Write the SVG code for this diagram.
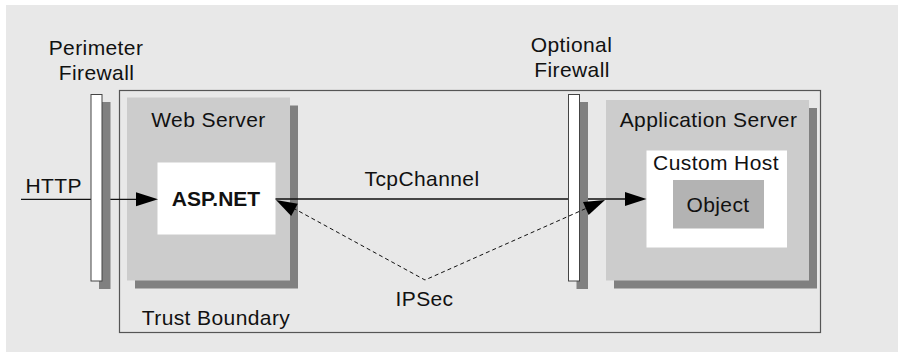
<svg xmlns="http://www.w3.org/2000/svg" width="898" height="352" viewBox="0 0 898 352">
<style>
text{font-family:"Liberation Sans",Arial,sans-serif;font-size:21px;letter-spacing:0.4px;fill:#111;text-anchor:middle}
.bold{font-weight:bold;letter-spacing:0}
.srv{fill:#cccccc}
.shd{fill:#808080}
.fw{fill:#ffffff;stroke:#444;stroke-width:1}
.line{stroke:#111;stroke-width:1.3;fill:none}
.dash{stroke:#111;stroke-width:1;fill:none;stroke-dasharray:4 3}
.ah{fill:#000}
</style>
<rect x="6" y="5" width="892" height="347" fill="#e8e8e8"/>
<g id="trust-boundary">
<rect x="119.5" y="90.5" width="701" height="242" fill="none" stroke="#555" stroke-width="1.2"/>
<text x="216" y="324.5">Trust Boundary</text>
</g>
<g id="web-server">
<rect class="shd" x="135" y="105.5" width="163" height="183"/>
<rect class="srv" x="127" y="97.5" width="163" height="183"/>
<text x="208.5" y="127">Web Server</text>
</g>
<g id="aspnet">
<rect x="157.5" y="162.5" width="118" height="72" fill="#fff"/>
<text class="bold" x="216" y="205.5">ASP.NET</text>
</g>
<g id="app-server">
<rect class="shd" x="614" y="108" width="203" height="180.5"/>
<rect class="srv" x="606" y="100" width="203" height="180.5"/>
<text x="708.5" y="126.5">Application Server</text>
</g>
<g id="custom-host">
<rect x="646.5" y="150.5" width="140.5" height="97" fill="#fff"/>
<text x="716" y="169.5">Custom Host</text>
</g>
<g id="object">
<rect x="673" y="180" width="91" height="48.5" fill="#b3b3b3"/>
<text x="718" y="211.5">Object</text>
</g>
<g id="connectors">
<line class="line" x1="21" y1="199.3" x2="140" y2="199.3"/>
<polygon class="ah" points="158,199.3 136,192.3 136,206.3"/>
<text x="53.7" y="192.7">HTTP</text>
<line class="line" x1="275.5" y1="199" x2="628" y2="199"/>
<polygon class="ah" points="646.5,199 625,192 625,206"/>
</g>
<g id="perimeter-firewall">
<rect class="shd" x="99" y="102" width="11.5" height="187"/>
<rect class="fw" x="91" y="94.5" width="11" height="186.5"/>
<text x="96" y="55">Perimeter</text>
<text x="96.5" y="80">Firewall</text>
</g>
<g id="optional-firewall">
<rect class="shd" x="576.5" y="102" width="11.5" height="187"/>
<rect class="fw" x="568.5" y="94.5" width="11" height="186.5"/>
<text x="571.5" y="52">Optional</text>
<text x="572" y="77">Firewall</text>
</g>
<g id="ipsec">
<polyline class="dash" points="293,208 425,280 587,208"/>
<polygon class="ah" points="276,200 297.8,203.7 291.2,216.1"/>
<polygon class="ah" points="605,200 583,202 588.6,215"/>
<text x="424.5" y="305.5">IPSec</text>
</g>
<g id="tcp-label">
<text x="422" y="185.5">TcpChannel</text>
</g>
</svg>
